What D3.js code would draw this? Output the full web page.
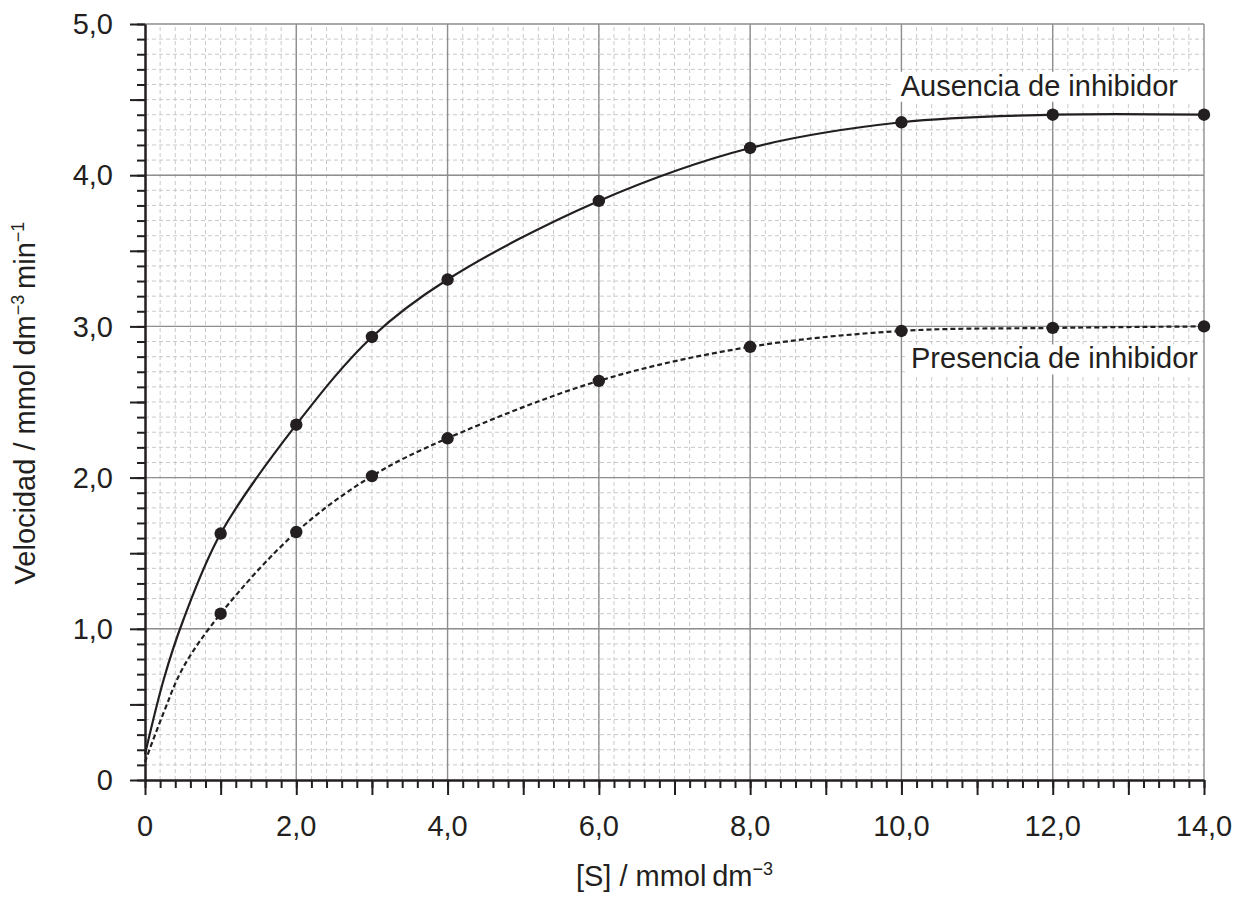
<!DOCTYPE html>
<html>
<head>
<meta charset="utf-8">
<script src="https://cdn.jsdelivr.net/npm/d3@7"></script>
<style>
    body { margin: 0; background: #fff; }
    svg text { font-family: "Liberation Sans", Arial, Helvetica, sans-serif; fill: #231f20; }
</style>
</head>
<body>
<script>
// [S] in mmol dm-3 where readings were taken
const sValues = [1, 2, 3, 4, 6, 8, 10, 12, 14];
// velocity, no inhibitor
const vAbsent = [1.63, 2.35, 2.93, 3.31, 3.83, 4.18, 4.35, 4.40, 4.40];
// velocity, with inhibitor
const vPresent = [1.10, 1.64, 2.01, 2.26, 2.64, 2.865, 2.97, 2.99, 3.00];

// where the drawn curves begin near the origin
const sStart = [0, 0.25, 0.5];
const vAbsentStart = [0.17, 0.67, 1.05];
const vPresentStart = [0.12, 0.45, 0.74];

const xTickValues = [0, 2, 4, 6, 8, 10, 12, 14];
const xTickLabels = ["0", "2,0", "4,0", "6,0", "8,0", "10,0", "12,0", "14,0"];
const yTickValues = [0, 1, 2, 3, 4, 5];
const yTickLabels = ["0", "1,0", "2,0", "3,0", "4,0", "5,0"];

const width = 1245;
const height = 902;
const margin = { top: 24, right: 41, bottom: 122, left: 145 };
const ink = "#231f20";

const svg = d3.select("body").append("svg")
    .attr("width", width)
    .attr("height", height);

const xScale = d3.scaleLinear()
    .domain([0, 14])
    .range([margin.left, width - margin.right]);

const yScale = d3.scaleLinear()
    .domain([0, 5])
    .range([height - margin.bottom, margin.top]);

const x0 = xScale(0), x1 = xScale(14), y0 = yScale(0), y1 = yScale(5);

// minor grid
const minorX = d3.range(1, 70).map(i => i * 0.2);
const minorY = d3.range(1, 50).map(i => i * 0.1);

svg.append("g")
    .selectAll("line")
    .data(minorX)
    .enter()
    .append("line")
    .attr("x1", d => xScale(d)).attr("x2", d => xScale(d))
    .attr("y1", y0).attr("y2", y1)
    .attr("stroke", "#c9c9c9")
    .attr("stroke-width", 1)
    .attr("stroke-dasharray", "4,3");

svg.append("g")
    .selectAll("line")
    .data(minorY)
    .enter()
    .append("line")
    .attr("y1", d => yScale(d)).attr("y2", d => yScale(d))
    .attr("x1", x0).attr("x2", x1)
    .attr("stroke", "#c9c9c9")
    .attr("stroke-width", 1)
    .attr("stroke-dasharray", "4,3");

// major grid (also the top and right border)
svg.append("g")
    .selectAll("line")
    .data(xTickValues.slice(1))
    .enter()
    .append("line")
    .attr("x1", d => xScale(d)).attr("x2", d => xScale(d))
    .attr("y1", y0).attr("y2", y1)
    .attr("stroke", "#8e8e8e")
    .attr("stroke-width", 1.4);

svg.append("g")
    .selectAll("line")
    .data(yTickValues.slice(1))
    .enter()
    .append("line")
    .attr("y1", d => yScale(d)).attr("y2", d => yScale(d))
    .attr("x1", x0).attr("x2", x1)
    .attr("stroke", "#8e8e8e")
    .attr("stroke-width", 1.4);

// labels on a white box (drawn under the curves)
function boxedLabel(txt, x, y, boxLeft, boxRight) {
    const g = svg.append("g");
    const t = g.append("text")
        .attr("x", x)
        .attr("y", y)
        .attr("text-anchor", "end")
        .style("font-size", "29px")
        .text(txt);
    const bb = t.node().getBBox();
    g.insert("rect", "text")
        .attr("x", boxLeft)
        .attr("y", bb.y + 2)
        .attr("width", boxRight - boxLeft)
        .attr("height", bb.height - 2)
        .attr("fill", "#fff");
}
boxedLabel("Ausencia de inhibidor", xScale(14) - 26, yScale(4.4) - 19, xScale(9.9), xScale(14) - 1);
boxedLabel("Presencia de inhibidor", xScale(14) - 6, yScale(3.0) + 42, xScale(10.05), xScale(14) - 1);

// curves
const line = d3.line()
    .x(d => xScale(d[0]))
    .y(d => yScale(d[1]))
    .curve(d3.curveCatmullRom.alpha(0.5));

const absentPts = sValues.map((s, i) => [s, vAbsent[i]]);
const presentPts = sValues.map((s, i) => [s, vPresent[i]]);
const absentCurve = sStart.map((s, i) => [s, vAbsentStart[i]]).concat(absentPts);
const presentCurve = sStart.map((s, i) => [s, vPresentStart[i]]).concat(presentPts);

svg.append("path")
    .datum(absentCurve)
    .attr("d", line)
    .attr("fill", "none")
    .attr("stroke", ink)
    .attr("stroke-width", 2.2);

svg.append("path")
    .datum(presentCurve)
    .attr("d", line)
    .attr("fill", "none")
    .attr("stroke", ink)
    .attr("stroke-width", 2.2)
    .attr("stroke-dasharray", "5,3");

svg.append("g")
    .selectAll("circle")
    .data(absentPts.concat(presentPts))
    .enter()
    .append("circle")
    .attr("cx", d => xScale(d[0]))
    .attr("cy", d => yScale(d[1]))
    .attr("r", 6.2)
    .attr("fill", ink);

// axes: minor ticks, long ticks, labels
const xMinorTicks = d3.range(0, 71).map(i => i * 0.2);
const xLongTicks = d3.range(0, 15);
const yMinorTicks = d3.range(0, 51).map(i => i * 0.1);
const yLongTicks = d3.range(0, 11).map(i => i * 0.5);

function styleAxis(g) {
    g.select(".domain").attr("stroke", ink).attr("stroke-width", 2);
    g.selectAll(".tick line").attr("stroke", ink).attr("stroke-width", 2);
}

svg.append("g")
    .attr("transform", `translate(0, ${y0})`)
    .call(d3.axisBottom(xScale).tickValues(xMinorTicks).tickSize(8).tickSizeOuter(0).tickFormat(""))
    .call(styleAxis);

svg.append("g")
    .attr("transform", `translate(0, ${y0})`)
    .call(d3.axisBottom(xScale).tickValues(xLongTicks).tickSize(15).tickSizeOuter(0).tickFormat(""))
    .call(styleAxis);

svg.append("g")
    .attr("transform", `translate(${x0}, 0)`)
    .call(d3.axisLeft(yScale).tickValues(yMinorTicks).tickSize(8).tickSizeOuter(0).tickFormat(""))
    .call(styleAxis);

svg.append("g")
    .attr("transform", `translate(${x0}, 0)`)
    .call(d3.axisLeft(yScale).tickValues(yLongTicks).tickSize(15).tickSizeOuter(0).tickFormat(""))
    .call(styleAxis);

svg.append("g")
    .selectAll("text")
    .data(xTickValues)
    .enter()
    .append("text")
    .attr("x", d => xScale(d))
    .attr("y", y0 + 56)
    .attr("text-anchor", "middle")
    .style("font-size", "29px")
    .text((d, i) => xTickLabels[i]);

svg.append("g")
    .selectAll("text")
    .data(yTickValues)
    .enter()
    .append("text")
    .attr("x", x0 - 32)
    .attr("y", d => yScale(d))
    .attr("dy", "0.35em")
    .attr("text-anchor", "end")
    .style("font-size", "29px")
    .text((d, i) => yTickLabels[i]);

// axis titles
const xTitle = svg.append("text")
    .attr("x", (x0 + x1) / 2)
    .attr("y", 886)
    .attr("text-anchor", "middle")
    .style("font-size", "29px");
xTitle.append("tspan").text("[S] / mmol\u2009dm");
xTitle.append("tspan").attr("dy", -11).style("font-size", "18px").text("\u22123");

const yTitle = svg.append("text")
    .attr("transform", "rotate(-90)")
    .attr("x", -403)
    .attr("y", 35)
    .attr("text-anchor", "middle")
    .style("font-size", "29px");
yTitle.append("tspan").text("Velocidad / mmol dm");
yTitle.append("tspan").attr("dy", -11).style("font-size", "18px").text("\u22123");
yTitle.append("tspan").attr("dy", 11).text("\u2009min");
yTitle.append("tspan").attr("dy", -11).style("font-size", "18px").text("\u22121");
</script>
</body>
</html>
